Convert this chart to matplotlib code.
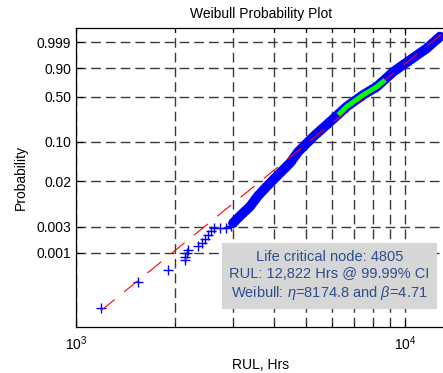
import numpy as np
import matplotlib
matplotlib.use('Agg')
import matplotlib.pyplot as plt
from matplotlib.patches import Rectangle
from matplotlib.ticker import FixedLocator, FixedFormatter, LogLocator, NullFormatter

# ---------------- datos ----------------
# cola inferior: cruces sueltas
rul_tail = [1191, 1540, 1899, 2145, 2145, 2170, 2194, 2353, 2411, 2467,
            2525, 2568, 2628, 2741, 2858, 2959]
prob_tail = [9.9e-5, 3.0e-4, 4.9e-4, 7.5e-4, 8.6e-4, 9.9e-4, 1.13e-3, 1.34e-3,
             1.54e-3, 1.78e-3, 2.13e-3, 2.52e-3, 2.82e-3, 2.84e-3, 2.90e-3, 3.04e-3]

# banda densa de puntos
rul_band = [3001, 3173, 3380, 3574, 3799, 4026, 4258, 4472, 4730, 5264,
            5916, 6648, 7452, 8204, 9214, 10357, 11641, 12777]
prob_band = [3.5e-3, 4.9e-3, 7.0e-3, 1.09e-2, 1.61e-2, 2.29e-2, 3.19e-2, 4.25e-2,
             0.0666, 0.1228, 0.2165, 0.369, 0.528, 0.653, 0.863, 0.961, 0.995, 0.99983]

# tramo verde (cuartiles)
rul_green = [6271, 6648, 7452, 8204, 8696]
prob_green = [0.2784, 0.369, 0.528, 0.653, 0.7553]

# recta de ajuste (extremos)
rul_fit = [1190, 13048]
prob_fit = [8.9e-5, 0.999958]

yticks = [0.001, 0.003, 0.02, 0.10, 0.50, 0.90, 0.999]
ytick_labels = ['0.001', '0.003', '0.02', '0.10', '0.50', '0.90', '0.999']

info = ("Life critical node: 4805\n"
        "RUL: 12,822 Hrs @ 99.99% CI\n"
        "Weibull: $\\mathit{\\eta}$=8174.8 and $\\mathit{\\beta}$=4.71")

plt.rcParams['font.family'] = ['Liberation Sans', 'DejaVu Sans']
plt.rcParams['mathtext.fontset'] = 'custom'
plt.rcParams['mathtext.rm'] = 'Liberation Sans'
plt.rcParams['mathtext.it'] = 'Liberation Sans:italic'
plt.rcParams['mathtext.default'] = 'regular'


# escala de probabilidad Weibull
def wbl_fwd(p):
    p = np.asarray(p, dtype=float)
    with np.errstate(all='ignore'):
        return np.log(-np.log1p(-p))


def wbl_inv(y):
    y = np.asarray(y, dtype=float)
    return -np.expm1(-np.exp(y))


fig = plt.figure(figsize=(4.43, 3.73), dpi=100)
ax = fig.add_axes([0.1716, 0.1233, 0.8352, 0.8016])
ax.set_xscale('log')
ax.set_yscale('function', functions=(wbl_fwd, wbl_inv))

ax.plot(rul_band, prob_band, color='#0000ff', lw=7, solid_capstyle='round', zorder=2)
ax.plot(rul_tail + rul_band, prob_tail + prob_band, '+', color='#0000ff',
        ms=6.5, mew=1.0, zorder=2)
ax.plot(rul_fit, prob_fit, color='red', lw=0.8, dashes=(16, 11), zorder=3)
ax.plot(rul_green, prob_green, color='#00ff00', lw=3.5, solid_capstyle='butt', zorder=4)

ax.set_xlim(1000, 13323)
ax.set_ylim(4.5e-5, 1 - 4.05e-6)

ax.yaxis.set_major_locator(FixedLocator(yticks))
ax.yaxis.set_major_formatter(FixedFormatter(ytick_labels))
ax.yaxis.set_minor_locator(FixedLocator([]))
ax.xaxis.set_major_locator(LogLocator(base=10))
ax.xaxis.set_minor_locator(LogLocator(base=10, subs=np.arange(2, 10)))
ax.xaxis.set_minor_formatter(NullFormatter())

grid_style = dict(color='#3a3a3a', lw=1.0, linestyle=(0, (7, 3.6)))
ax.grid(True, which='major', axis='both', **grid_style)
ax.grid(True, which='minor', axis='x', **grid_style)
ax.set_axisbelow(True)

ax.tick_params(which='both', direction='in', top=True, right=False, labelsize=10)
ax.tick_params(which='major', length=5)
ax.tick_params(which='minor', length=3)
ax.tick_params(axis='x', pad=5)

for s in ax.spines.values():
    s.set_linewidth(0.9)

ax.add_patch(Rectangle((0.3946, 0.0602), 0.5811, 0.2208, transform=ax.transAxes,
                       facecolor='#d6d6d6', edgecolor='none', zorder=5))
ax.text(0.685, 0.1706, info, transform=ax.transAxes, ha='center', va='center',
        ma='center', fontsize=10.5, color='#2e4d8c', linespacing=1.25, zorder=6)

ax.set_title('Weibull Probability Plot', fontsize=10, pad=7)
ax.set_xlabel('RUL, Hrs', fontsize=10, labelpad=4)
ax.set_ylabel('Probability', fontsize=10, labelpad=6)

fig.savefig('out.png', dpi=100)
